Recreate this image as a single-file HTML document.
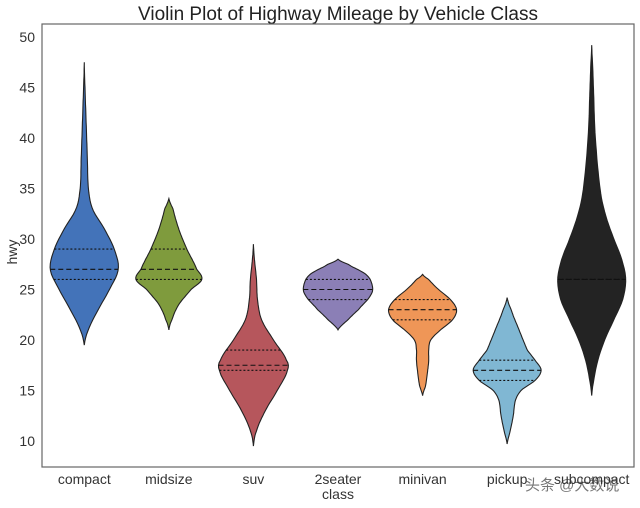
<!DOCTYPE html>
<html><head><meta charset="utf-8"><style>
body{margin:0;background:#fff;}
svg{display:block;font-family:"Liberation Sans","Noto Sans CJK SC",sans-serif;}
</style></head><body>
<svg id="chart" width="640" height="508" viewBox="0 0 640 508">
<rect width="640" height="508" fill="#fff"/>
<text x="338" y="20" text-anchor="middle" font-size="19" fill="#222">Violin Plot of Highway Mileage by Vehicle Class</text>
<g id="plot"></g>
<rect x="42" y="24" width="592" height="443" fill="none" stroke="#666" stroke-width="1.2"/>
<text x="338" y="499" text-anchor="middle" font-size="14" fill="#333">class</text>
<text x="17" y="252" text-anchor="middle" font-size="14" fill="#333" transform="rotate(-90 17 252)">hwy</text>
<text x="525" y="490" font-size="15" fill="#555" opacity="0.8">头条 @大数说</text>
</svg>
<script>
const categories=["compact","midsize","suv","2seater","minivan","pickup","subcompact"];
const colors=["#4373b9","#7f9b3d","#b6565c","#8b7fb6","#ef9657","#80b7d3","#232323"];
const yTicks=[10,15,20,25,30,35,40,45,50];
// density profiles: hwy levels and relative half-widths (0..1)
const levels=[
[19.5,21,23,25,27,29,31,33,35,38,41,44,47.5],
[21,22,23.5,25,26,27,29,31,33,34],
[9.5,11,13,15,17,18,20,22,24,26,28,29.5],
[21,22,23,24.5,25.5,26.5,27.5,28],
[14.5,15.5,17,18,19,20,21,22,23,24,25,26,26.5],
[9.7,11,12.5,14,15,16,17,18,19,21,23,24.2],
[14.5,16,18,20,22,24,26,28,30,32,34,36,38,41,44,47,49.2]];
const dens=[
[0,0.12,0.41,0.74,1,0.88,0.59,0.24,0.12,0.09,0.06,0.03,0],
[0,0.09,0.29,0.65,0.97,0.82,0.53,0.29,0.12,0],
[0,0.09,0.35,0.7,1,0.97,0.59,0.24,0.12,0.09,0.03,0],
[0,0.29,0.6,0.97,1,0.82,0.3,0],
[0,0.09,0.15,0.18,0.18,0.24,0.53,0.88,1,0.82,0.47,0.18,0],
[0,0.09,0.18,0.24,0.41,0.82,1,0.82,0.59,0.35,0.12,0],
[0,0.06,0.18,0.38,0.65,0.91,1,0.88,0.65,0.44,0.29,0.21,0.15,0.09,0.06,0.03,0]];
const q1=[26,26,17,24,22,16,26];
const medians=[27,27,17.5,25,23,17,26];
const q3=[29,29,19,26,24,18,26];

const X0=42,X1=634,Y0=24,Y1=467;
const maxHalf=34;
function xScale(i){return X0+(X1-X0)/categories.length*(i+0.5);}
function yScale(v){return 441-(v-10)*10.1;}
const NS="http://www.w3.org/2000/svg";
const plot=document.getElementById("plot");
const svg=document.getElementById("chart");
function mk(t,a){const e=document.createElementNS(NS,t);for(const k in a)e.setAttribute(k,a[k]);return e;}
function sample(L,D,v){ // catmull-rom interpolation
  if(v<=L[0]||v>=L[L.length-1])return 0;
  let k=0;while(L[k+1]<v)k++;
  const t=(v-L[k])/(L[k+1]-L[k]);
  const p0=D[Math.max(k-1,0)],p1=D[k],p2=D[k+1],p3=D[Math.min(k+2,D.length-1)];
  const r=0.5*((2*p1)+(-p0+p2)*t+(2*p0-5*p1+4*p2-p3)*t*t+(-p0+3*p1-3*p2+p3)*t*t*t);
  return Math.max(r,0);
}
yTicks.forEach(v=>{
  const t=mk("text",{x:X0-7,y:yScale(v)+5,"text-anchor":"end","font-size":"14",fill:"#333"});
  
  
  t.textContent=v;svg.appendChild(t);
});
categories.forEach((c,i)=>{
  const cx=xScale(i),L=levels[i],D=dens[i];
  const lo=L[0],hi=L[L.length-1],n=80;
  let right=[],left=[];
  for(let s=0;s<=n;s++){const v=lo+(hi-lo)*s/n;const w=sample(L,D,v)*maxHalf;
    right.push((cx+w).toFixed(1)+","+yScale(v).toFixed(1));
    left.unshift((cx-w).toFixed(1)+","+yScale(v).toFixed(1));}
  const p=mk("path",{d:"M"+right.join("L")+"L"+left.join("L")+"Z",fill:colors[i],stroke:"#222","stroke-width":"1.1"});
  
  
  plot.appendChild(p);
  [[q1[i],"2,2"],[medians[i],"5,3"],[q3[i],"2,2"]].forEach(([v,da])=>{
    const w=sample(L,D,v)*maxHalf;
    const l=mk("line",{x1:cx-w,x2:cx+w,y1:yScale(v),y2:yScale(v),stroke:"#111","stroke-width":"1.1","stroke-dasharray":da});
    
    
    plot.appendChild(l);
  });
  const t=mk("text",{x:cx,y:484,"text-anchor":"middle","font-size":"14",fill:"#333"});
  
  
  t.textContent=c;svg.appendChild(t);
});
</script>
</body></html>
